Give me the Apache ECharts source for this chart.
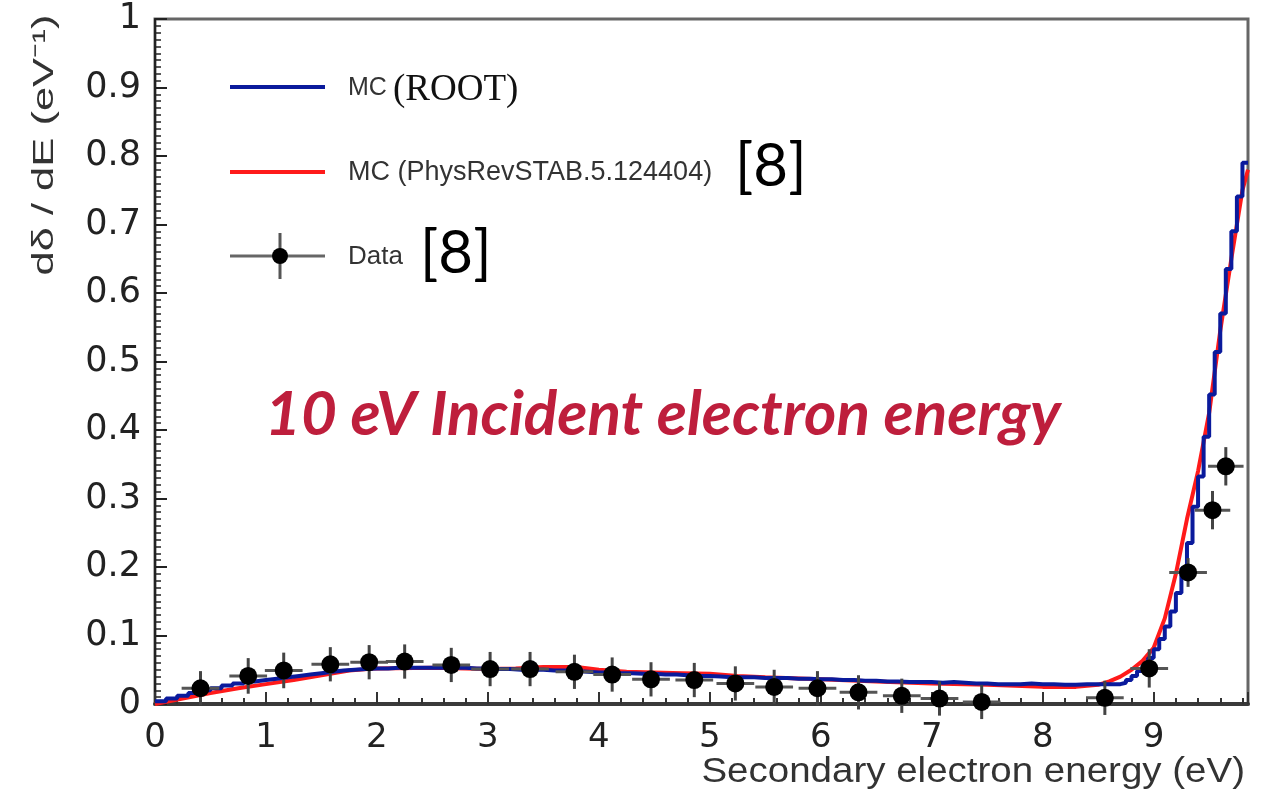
<!DOCTYPE html>
<html><head><meta charset="utf-8">
<script src="https://cdn.jsdelivr.net/npm/echarts@6/dist/echarts.min.js"></script>
<style>html,body{margin:0;padding:0;background:#fff}#c{width:1269px;height:793px}</style>
</head><body><div id="c"></div>
<script>
// ---- Data ----
// MC (ROOT) histogram: left edges of bins, last entry is the right edge of the final bin
const blueEdges = [
  0.0,0.1,0.2,0.3,0.4,0.5,0.6,0.7,0.8,0.9,
  1.0,1.1,1.2,1.3,1.4,1.5,1.6,1.7,1.8,1.9,
  2.0,2.1,2.2,2.3,2.4,2.5,2.6,2.7,2.8,2.9,
  3.0,3.1,3.2,3.3,3.4,3.5,3.6,3.7,3.8,3.9,
  4.0,4.1,4.2,4.3,4.4,4.5,4.6,4.7,4.8,4.9,
  5.0,5.1,5.2,5.3,5.4,5.5,5.6,5.7,5.8,5.9,
  6.0,6.1,6.2,6.3,6.4,6.5,6.6,6.7,6.8,6.9,
  7.0,7.1,7.2,7.3,7.4,7.5,7.6,7.7,7.8,7.9,
  8.0,8.1,8.2,8.3,8.4,8.5,8.6,
  8.7,8.75,8.8,8.85,8.9,8.95,9.0,9.05,9.1,9.15,9.2,9.25,9.3,9.35,9.4,9.45,9.5,9.55,9.6,9.65,9.7,9.75,9.8,
  9.85
];
const blueValues = [
  0.004,0.008,0.012,0.016,0.020,0.023,0.027,0.030,0.033,0.035,
  0.037,0.039,0.041,0.043,0.045,0.047,0.049,0.050,0.051,0.052,
  0.052,0.053,0.053,0.053,0.053,0.053,0.053,0.053,0.052,0.052,
  0.051,0.051,0.050,0.050,0.050,0.049,0.049,0.048,0.047,0.046,
  0.046,0.045,0.045,0.044,0.044,0.043,0.043,0.042,0.041,0.041,
  0.040,0.039,0.039,0.039,0.038,0.038,0.038,0.037,0.037,0.036,
  0.036,0.035,0.035,0.034,0.034,0.033,0.033,0.032,0.032,0.032,
  0.031,0.032,0.031,0.030,0.030,0.029,0.029,0.029,0.030,0.029,
  0.029,0.028,0.028,0.029,0.029,0.029,0.029,
  0.031,0.035,0.041,0.048,0.056,0.067,0.080,0.095,0.113,0.135,0.162,0.198,0.235,0.288,0.332,0.390,0.452,0.514,0.570,0.635,0.690,0.741,0.790
];
// MC (PhysRevSTAB.5.124404) curve
const redX = [0,0.25,0.5,0.75,1.0,1.25,1.5,1.75,2.0,2.5,3.0,3.25,3.5,3.8,4.0,4.25,4.5,4.75,5.0,5.25,5.5,6.0,6.5,7.0,7.5,8.0,8.3,8.5,8.6,8.7,8.8,8.9,9.0,9.1,9.2,9.3,9.4,9.5,9.6,9.7,9.8,9.85];
const redY = [0,0.008,0.016,0.023,0.029,0.035,0.042,0.049,0.052,0.053,0.051,0.052,0.054,0.054,0.050,0.047,0.046,0.045,0.044,0.041,0.039,0.036,0.033,0.030,0.028,0.025,0.025,0.028,0.033,0.040,0.050,0.063,0.082,0.125,0.19,0.27,0.34,0.425,0.545,0.65,0.75,0.78];
// Data points with errors
const dataX = [0.41,0.84,1.16,1.58,1.93,2.25,2.67,3.02,3.38,3.78,4.12,4.47,4.86,5.23,5.58,5.97,6.34,6.73,7.07,7.45,8.56,8.96,9.31,9.53,9.65];
const dataY = [0.023,0.041,0.049,0.058,0.061,0.062,0.057,0.051,0.051,0.047,0.043,0.036,0.035,0.030,0.025,0.023,0.017,0.012,0.008,0.003,0.009,0.052,0.192,0.283,0.347];
const dataXErr = [0.17,0.17,0.17,0.17,0.17,0.17,0.17,0.17,0.17,0.17,0.17,0.17,0.17,0.17,0.17,0.17,0.17,0.17,0.17,0.17,0.17,0.17,0.17,0.16,0.16];
const dataYErr = [0.025,0.026,0.026,0.025,0.025,0.025,0.025,0.025,0.025,0.025,0.025,0.025,0.025,0.025,0.025,0.025,0.025,0.025,0.025,0.025,0.025,0.028,0.021,0.028,0.028];

const xTickLabels = ['0','1','2','3','4','5','6','7','8','9'];

// ---- Build series data ----
const blueLine = [];
for (let i = 0; i < blueValues.length; i++) {
  blueLine.push([blueEdges[i], blueValues[i]]);
  blueLine.push([blueEdges[i + 1], blueValues[i]]);
}
const redLine = redX.map((x, i) => [x, redY[i]]);
const points = dataX.map((x, i) => [x, dataY[i], dataXErr[i], dataYErr[i]]);

const chart = echarts.init(document.getElementById('c'), null, {renderer: 'canvas'});
const SANS = '"Liberation Sans", Arial, sans-serif';
const WIDE = '"DejaVu Sans", "Liberation Sans", sans-serif';
const option = {
  animation: false,
  backgroundColor: '#ffffff',
  grid: {left: 155, right: 21, top: 19, bottom: 89, show: true, borderColor: '#666', borderWidth: 3},
  xAxis: {
    type: 'value', min: 0, max: 9.85, interval: 1,
    axisLine: {show: true, lineStyle: {color: '#3a3a3a', width: 4}},
    axisTick: {show: true, inside: true, length: 12, lineStyle: {color: '#333', width: 2}},
    minorTick: {show: true, splitNumber: 5, length: 6, lineStyle: {color: '#333', width: 2}},
    splitLine: {show: false},
    axisLabel: {
      fontSize: 34, color: '#222', fontFamily: WIDE, margin: 17, showMaxLabel: false,
      formatter: v => (Math.abs(v - Math.round(v)) < 1e-6 && xTickLabels[Math.round(v)] !== undefined) ? xTickLabels[Math.round(v)] : ''
    }
  },
  yAxis: {
    type: 'value', min: 0, max: 1, interval: 0.1,
    axisLine: {show: true, lineStyle: {color: '#222', width: 2}},
    axisTick: {show: true, inside: true, length: 12, lineStyle: {color: '#222', width: 2}},
    minorTick: {show: true, splitNumber: 10, length: 6, lineStyle: {color: '#222', width: 1.5}},
    splitLine: {show: false},
    axisLabel: {fontSize: 35, color: '#222', fontFamily: WIDE, margin: 14}
  },
  series: [
    {
      name: 'MC (PhysRevSTAB.5.124404)', type: 'line', data: redLine, showSymbol: false, symbol: 'none',
      lineStyle: {color: '#ff1a1a', width: 4}, z: 2
    },
    {
      name: 'MC (ROOT)', type: 'line', data: blueLine, showSymbol: false, symbol: 'none',
      lineStyle: {color: '#0a1a9c', width: 4}, z: 3
    },
    {
      name: 'Data', type: 'custom', z: 4, clip: false,
      data: points,
      renderItem: function (params, api) {
        const x = api.value(0), y = api.value(1), ex = api.value(2), ey = api.value(3);
        const c = api.coord([x, y]);
        const l = api.coord([x - ex, y]);
        const r = api.coord([x + ex, y]);
        const t = api.coord([x, y + ey]);
        const b = api.coord([x, y - ey]);
        return {
          type: 'group',
          children: [
            {type: 'line', shape: {x1: l[0], y1: c[1], x2: r[0], y2: c[1]}, style: {stroke: '#555', lineWidth: 3}},
            {type: 'line', shape: {x1: c[0], y1: t[1], x2: c[0], y2: b[1]}, style: {stroke: '#444', lineWidth: 3}},
            {type: 'circle', shape: {cx: c[0], cy: c[1], r: 9}, style: {fill: '#000'}}
          ]
        };
      }
    }
  ],
  graphic: [
    // legend
    {type: 'line', shape: {x1: 230, y1: 87, x2: 325, y2: 87}, style: {stroke: '#0a1a9c', lineWidth: 4}},
    {type: 'text', x: 348, y: 88, style: {text: 'MC', font: '25px ' + SANS, fill: '#333', verticalAlign: 'middle'}},
    {type: 'text', x: 393, y: 90, style: {text: '(ROOT)', font: '37px "Liberation Serif", "Times New Roman", serif', fill: '#111', verticalAlign: 'middle'}},
    {type: 'line', shape: {x1: 230, y1: 172, x2: 325, y2: 172}, style: {stroke: '#ff1a1a', lineWidth: 4}},
    {type: 'text', x: 348, y: 173, style: {text: 'MC (PhysRevSTAB.5.124404)', font: '27px ' + SANS, fill: '#333', verticalAlign: 'middle'}},
    {type: 'text', x: 735, y: 167, style: {text: '[8]', font: '60px Lato, "Open Sans", sans-serif', fill: '#000', verticalAlign: 'middle'}},
    {type: 'line', shape: {x1: 230, y1: 256, x2: 325, y2: 256}, style: {stroke: '#666', lineWidth: 3}},
    {type: 'line', shape: {x1: 280, y1: 233, x2: 280, y2: 279}, style: {stroke: '#555', lineWidth: 3}},
    {type: 'circle', shape: {cx: 280, cy: 256, r: 8}, style: {fill: '#000'}},
    {type: 'text', x: 348, y: 257, style: {text: 'Data', font: '26px ' + SANS, fill: '#333', verticalAlign: 'middle'}},
    {type: 'text', x: 420, y: 254, style: {text: '[8]', font: '60px Lato, "Open Sans", sans-serif', fill: '#000', verticalAlign: 'middle'}},
    // annotation
    {type: 'text', x: 265, y: 415, style: {text: '10 eV Incident electron energy', font: 'italic bold 62px Lato, "Open Sans", sans-serif', fill: '#be1e3c', verticalAlign: 'middle'}},
    // axis titles
    {type: 'text', x: 45, y: 145, rotation: Math.PI / 2, scaleX: 1.45, style: {text: 'dδ / dE (eV⁻¹)', font: '30px ' + SANS, fill: '#333', align: 'center', verticalAlign: 'middle'}},
    {type: 'text', x: 1245, y: 772, scaleX: 1.1, style: {text: 'Secondary electron energy (eV)', font: '35px ' + SANS, fill: '#333', align: 'right', verticalAlign: 'middle'}}
  ]
};
chart.setOption(option);
</script>
</body></html>
